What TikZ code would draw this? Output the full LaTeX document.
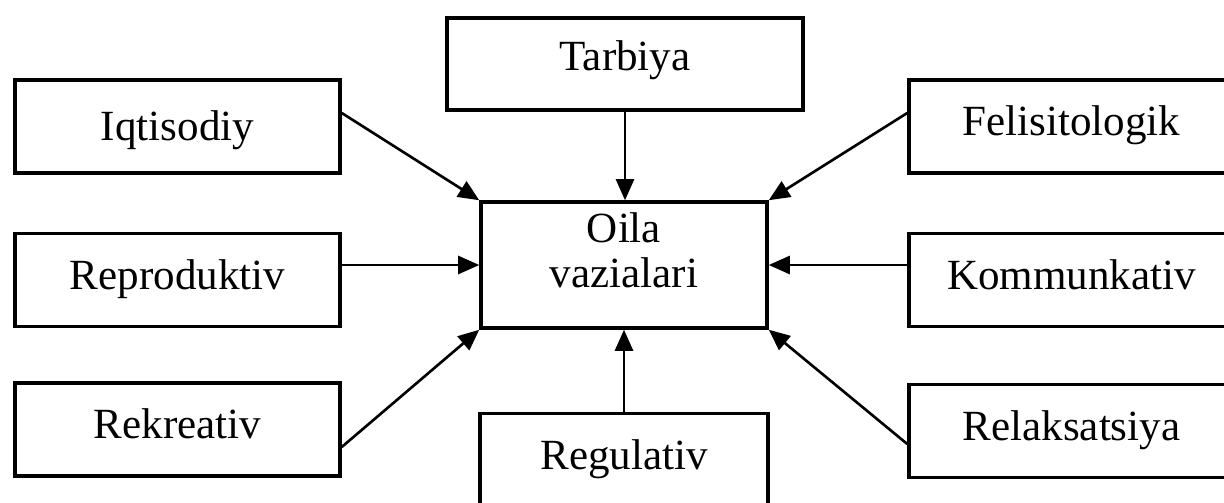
\documentclass[tikz,border=0pt]{standalone}
\usepackage{fontspec}
\setmainfont{Liberation Serif}
\usetikzlibrary{arrows.meta}

\begin{document}
\begin{tikzpicture}[
    >={Triangle[length=0.42cm, width=0.36cm]},
    quti/.style={draw, line width=2pt, inner sep=0pt, font=\fontsize{24.5}{26.1}\selectfont},
    vazifa/.style={quti, minimum width=6.5cm, minimum height=1.86cm,
        text height=0.56cm, text depth=0.2cm},
    markaz/.style={quti, minimum width=5.72cm, minimum height=2.52cm, align=center,
        text height=1.42cm, text depth=0.5cm}
]
    \clip (0,0) rectangle (24.48,10.04);
    % Centre box, one box above and below it, three boxes on each side
    \node[markaz] (oila) at (12.48,4.74) {Oila\\vazialari};
    \node[vazifa, minimum width=7.12cm, minimum height=1.84cm, text depth=0.28cm] (tarbiya) at (12.5,8.76) {Tarbiya};
    \node[vazifa, minimum width=5.76cm] (regul) at (12.48,0.84) {Regulativ};
    \node[vazifa, text depth=0cm] (iqt) at (3.55,7.51) {Iqtisodiy};
    \node[vazifa] (repr) at (3.55,4.44) {Reproduktiv};
    \node[vazifa] (rekr) at (3.55,1.45) {Rekreativ};
    \node[vazifa] (felis) at (21.43,7.51) {Felisitologik};
    \node[vazifa] (komm) at (21.43,4.44) {Kommunkativ};
    \node[vazifa] (relak) at (21.43,1.42) {Relaksatsiya};

    \path[->, line width=1.5pt]
        (tarbiya.south) edge (tarbiya.south |- oila.north)
        (regul.north) edge (regul.north |- oila.south)
        ([yshift=0.27cm]iqt.east) edge (oila.north west)
        (repr.east |- oila.west) edge (oila.west)
        ([yshift=-0.35cm]rekr.east) edge (oila.south west)
        ([yshift=0.27cm]felis.west) edge (oila.north east)
        (komm.west |- oila.east) edge (oila.east)
        ([yshift=-0.26cm]relak.west) edge (oila.south east);
\end{tikzpicture}
\end{document}
